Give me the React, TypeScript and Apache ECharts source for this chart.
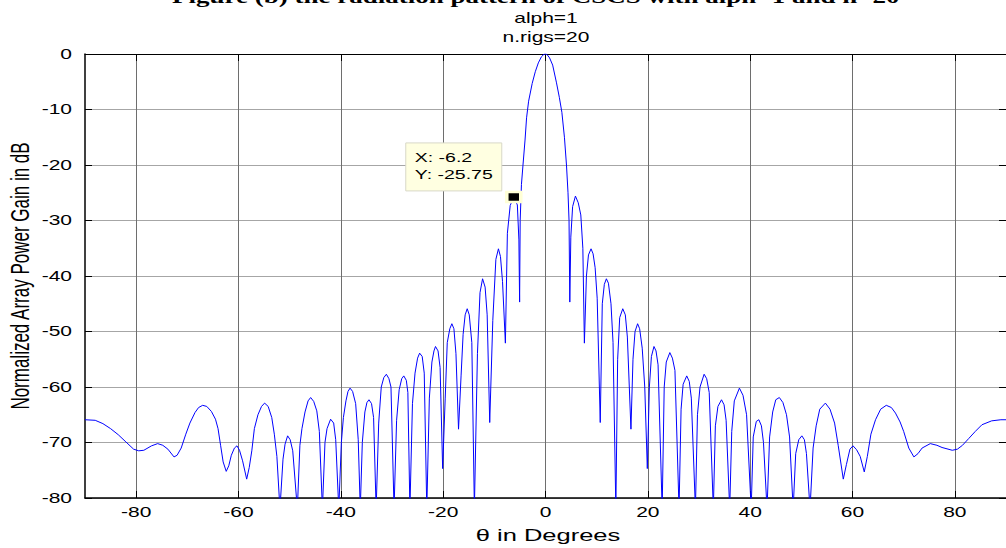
import React, { useEffect, useRef } from "react";
import * as echarts from "echarts";

// ---------- data ----------
const patternPoints: [number, number][] = [
  [-90, -65.9], [-88, -66.0], [-86.5, -66.6], [-85, -67.5], [-83.5, -68.6], [-82, -69.9],
  [-80.5, -71.2], [-79.5, -71.5], [-78.5, -71.4], [-77, -70.6], [-75.8, -70.2], [-74.8, -70.5],
  [-73.8, -71.2], [-72.6, -72.6], [-72.0, -72.3], [-71.2, -71.0], [-70.3, -68.5], [-69.5, -66.5],
  [-68.5, -64.6], [-67.8, -63.7], [-67.0, -63.3], [-66.2, -63.5], [-65.3, -64.4], [-64.5, -65.8],
  [-64.0, -67.5], [-63.5, -70.5], [-63.0, -73.5], [-62.4, -75.2], [-61.9, -74.2], [-61.4, -72.3],
  [-60.8, -71.0], [-60.3, -70.6], [-59.8, -71.4], [-59.2, -73.3], [-58.4, -76.6], [-57.9, -74.5],
  [-57.4, -71.5], [-56.9, -67.5], [-56.2, -65.0], [-55.5, -63.5], [-54.9, -62.9], [-54.2, -63.5],
  [-53.5, -65.5], [-53.0, -68.5], [-52.5, -72.5], [-51.9, -82], [-51.3, -73.0], [-50.9, -70.3],
  [-50.4, -68.8], [-49.9, -69.5], [-49.4, -71.5], [-48.5, -82], [-48.0, -70.5], [-47.6, -67.5],
  [-47.0, -64.5], [-46.4, -62.5], [-45.9, -61.9], [-45.3, -62.6], [-44.7, -64.3], [-44.2, -68.0],
  [-43.6, -82], [-43.1, -70], [-42.7, -67.5], [-42.0, -65.8], [-41.4, -66.5], [-41.0, -69.5],
  [-40.4, -82], [-39.9, -70], [-39.5, -65.5], [-39.0, -62.5], [-38.6, -60.8], [-38.2, -60.2],
  [-37.7, -60.8], [-37.1, -63.0], [-36.6, -69.5], [-36.2, -82], [-35.8, -70], [-35.3, -64.5],
  [-34.9, -62.8], [-34.5, -62.3], [-34.0, -63.0], [-33.6, -65.5], [-33.1, -82], [-32.6, -66.5],
  [-32.1, -60.0], [-31.6, -58.3], [-31.1, -57.7], [-30.6, -58.5], [-30.2, -60.0], [-29.6, -82],
  [-29.1, -66], [-28.6, -60.5], [-28.1, -58.5], [-27.7, -58.0], [-27.2, -58.8], [-26.9, -61],
  [-26.5, -82], [-26.0, -63], [-25.5, -57.5], [-25.0, -54.8], [-24.6, -53.9], [-24.1, -54.5],
  [-23.7, -57.5], [-23.2, -82], [-22.7, -62], [-22.2, -55.5], [-21.8, -53.5], [-21.5, -52.7],
  [-21.0, -53.5], [-20.6, -56.5], [-20.1, -74.7], [-19.6, -62], [-19.2, -52.0], [-18.7, -49.5],
  [-18.3, -48.6], [-17.9, -49.5], [-17.5, -54], [-17.0, -67.6], [-16.5, -58], [-16.1, -50.5],
  [-15.7, -47.0], [-15.3, -45.9], [-14.9, -47.0], [-14.4, -52], [-13.9, -82], [-13.3, -54],
  [-12.8, -43.0], [-12.3, -40.5], [-11.8, -42.0], [-11.4, -47], [-10.9, -66.4], [-10.3, -48],
  [-9.7, -37.0], [-9.2, -35.1], [-8.8, -36.5], [-8.4, -41], [-7.84, -52.1], [-7.45, -32.3],
  [-6.9, -27.3], [-6.2, -25.75], [-5.5, -27.2], [-5.2, -33.5], [-5.06, -44.7], [-4.95, -30],
  [-4.7, -23.5], [-4.4, -20], [-4.0, -15.5], [-3.7, -11.5], [-3.3, -8.5], [-2.6, -5.3],
  [-2.0, -3.2], [-1.4, -1.6], [-0.8, -0.5], [-0.3, -0.05], [0, 0], [0.3, -0.1],
  [0.8, -0.7], [1.4, -2.0], [2.15, -5.2], [2.7, -7.8], [3.2, -10.5], [3.7, -15],
  [4.1, -20], [4.4, -25], [4.6, -30], [4.75, -44.7], [4.95, -33], [5.3, -27.5],
  [5.85, -25.6], [6.4, -26.8], [6.9, -29], [7.3, -35], [7.6, -52.1], [8.0, -40],
  [8.4, -36.2], [8.9, -35.1], [9.3, -36], [9.7, -38.5], [10.1, -44], [10.7, -66.4],
  [11.1, -45], [11.5, -41.5], [11.9, -40.5], [12.3, -41.3], [12.8, -45], [13.2, -52],
  [13.75, -82], [14.1, -55], [14.5, -47.5], [15.1, -45.9], [15.6, -47.0], [16.0, -51],
  [16.7, -67.6], [17.1, -55], [17.5, -50], [18.0, -48.6], [18.4, -49.5], [18.9, -53],
  [19.4, -60], [19.9, -74.7], [20.3, -60], [20.7, -54.5], [21.2, -52.7], [21.6, -53.5],
  [22.0, -56], [22.8, -82], [23.2, -60], [23.6, -55.5], [24.3, -53.8], [24.8, -54.8],
  [25.3, -57], [26.1, -82], [26.5, -64], [26.9, -59.5], [27.6, -58.0], [28.1, -59],
  [28.5, -62], [29.3, -82], [29.7, -65], [30.2, -60], [31.0, -57.7], [31.5, -58.5],
  [32.0, -61], [32.8, -82], [33.2, -67], [33.7, -63.5], [34.4, -62.3], [34.9, -63.2],
  [35.3, -66], [36.0, -82], [36.4, -68], [36.9, -62.5], [37.9, -60.2], [38.6, -61.5],
  [39.3, -65], [40.2, -82], [40.6, -69], [41.2, -66.2], [41.7, -65.9], [42.2, -67],
  [42.6, -70], [43.3, -82], [43.8, -69], [44.4, -64.5], [45.0, -62.3], [45.7, -61.9],
  [46.4, -62.8], [47.1, -65], [47.7, -69], [48.4, -82], [48.9, -72], [49.5, -69.5],
  [50.1, -68.8], [50.6, -69.5], [51.0, -72], [51.7, -82], [52.3, -71], [52.9, -67],
  [53.6, -64], [54.7, -62.9], [55.6, -64], [56.5, -66.5], [57.2, -70.5], [58.2, -76.6],
  [58.8, -74], [59.5, -71.2], [60.1, -70.6], [60.8, -71.3], [61.5, -72.5], [62.3, -75.3],
  [62.9, -72.5], [63.6, -68.5], [64.5, -65.9], [65.5, -64.0], [66.6, -63.3], [67.6, -63.7],
  [68.4, -64.7], [69.3, -66.3], [70.0, -68.0], [71.0, -71.0], [72.0, -72.6], [72.8, -72.0],
  [73.6, -71.0], [75.2, -70.2], [76.5, -70.5], [77.5, -70.9], [79.5, -71.4], [80.5, -71.2],
  [81.5, -70.5], [82.7, -69.3], [84.0, -68.0], [85.3, -66.8], [87.2, -66.1], [89.0, -65.9],
  [90, -65.9],
];

const xTickValues = [-80, -60, -40, -20, 0, 20, 40, 60, 80];
const yTickValues = [0, -10, -20, -30, -40, -50, -60, -70, -80];
const tipPoint = { x: -6.2, y: -25.75 };
const tipLines = ["X: -6.2", "Y: -25.75"];
const figureCaption = "Figure (b) the radiation pattern of CSCS with alph=1 and n=20";
const titleLines = ["alph=1", "n.rigs=20"];
const xAxisName = "\u03b8 in Degrees";
const yAxisName = "Normalized Array Power Gain in dB";

const SANS = '"Liberation Sans", Arial, Helvetica, sans-serif';
const SX = 1.5; // horizontal stretch of the reference's texts

export default function App() {
  const ref = useRef<HTMLDivElement>(null);

  useEffect(() => {
    if (!ref.current) return;
    const chart = echarts.init(ref.current, undefined, { renderer: "svg" });
    const xMin = -90, xMax = 90, yMin = -80, yMax = 0;

    chart.setOption({
      animation: false,
      backgroundColor: "#ffffff",
      grid: { left: 85, right: -4, top: 54, bottom: 50, containLabel: false },
      xAxis: [
        {
          type: "value", min: xMin, max: xMax, position: "bottom",
          axisLine: { show: true, onZero: false, lineStyle: { color: "#000", width: 1.5 } },
          axisTick: { show: true, inside: true, length: 7, customValues: xTickValues, lineStyle: { color: "#000" } },
          axisLabel: { show: false, customValues: xTickValues },
          splitLine: { show: true, lineStyle: { color: "#6e6e6e", width: 1 } },
        },
        {
          type: "value", min: xMin, max: xMax, position: "top",
          axisLine: { show: true, onZero: false, lineStyle: { color: "#000", width: 1 } },
          axisTick: { show: true, inside: true, length: 7, customValues: xTickValues, lineStyle: { color: "#000" } },
          axisLabel: { show: false, customValues: xTickValues },
          splitLine: { show: false },
        },
      ],
      yAxis: [
        {
          type: "value", min: yMin, max: yMax, interval: 10, position: "left",
          axisLine: { show: true, onZero: false, lineStyle: { color: "#000", width: 1.5 } },
          axisTick: { show: true, inside: true, length: 7, lineStyle: { color: "#000" } },
          axisLabel: { show: false },
          splitLine: { show: true, lineStyle: { color: "#a6a6a6", width: 1 } },
        },
        {
          type: "value", min: yMin, max: yMax, interval: 10, position: "right",
          axisLine: { show: true, onZero: false, lineStyle: { color: "#000", width: 1 } },
          axisTick: { show: true, inside: true, length: 7, lineStyle: { color: "#000" } },
          axisLabel: { show: false },
          splitLine: { show: false },
        },
      ],
      series: [
        {
          type: "line",
          data: patternPoints,
          xAxisIndex: 0,
          yAxisIndex: 0,
          symbol: "none",
          showSymbol: false,
          clip: true,
          lineStyle: { color: "#0000ff", width: 1 },
          markPoint: {
            symbol: "rect",
            symbolSize: [14, 10],
            silent: true,
            label: { show: false },
            itemStyle: { color: "#000000", borderColor: "#ffffd6", borderWidth: 3 },
            data: [{ coord: [tipPoint.x, tipPoint.y] }],
          },
        },
      ],
    });

    const px = (x: number, y: number) =>
      chart.convertToPixel({ xAxisIndex: 0, yAxisIndex: 0 }, [x, y]) as number[];

    const graphics: any[] = [];
    const [, yBottom] = px(0, yMin);
    const [xLeft, yTop] = px(xMin, yMax);

    xTickValues.forEach((v) => {
      const [x] = px(v, yMin);
      graphics.push({
        type: "text", x, y: yBottom + 14, scaleX: SX, silent: true,
        style: { text: String(v), font: `14px ${SANS}`, fill: "#000", textAlign: "center", textVerticalAlign: "middle" },
      });
    });
    yTickValues.forEach((v) => {
      const [, y] = px(xMin, v);
      graphics.push({
        type: "text", x: xLeft - 13, y, scaleX: SX, silent: true,
        style: { text: String(v), font: `14px ${SANS}`, fill: "#000", textAlign: "right", textVerticalAlign: "middle" },
      });
    });
    // axis names
    graphics.push({
      type: "text", x: 548, y: yBottom + 37, scaleX: SX, silent: true,
      style: { text: xAxisName, font: `17px ${SANS}`, fill: "#000", textAlign: "center", textVerticalAlign: "middle" },
    });
    graphics.push({
      type: "text", x: 20, y: (yTop + yBottom) / 2, rotation: Math.PI / 2, scaleY: SX, silent: true,
      style: { text: yAxisName, font: `17px ${SANS}`, fill: "#000", textAlign: "center", textVerticalAlign: "middle" },
    });
    // titles
    graphics.push({
      type: "text", x: 546, y: 18, scaleX: SX, silent: true,
      style: { text: titleLines[0], font: `14px ${SANS}`, fill: "#000", textAlign: "center", textVerticalAlign: "middle" },
    });
    graphics.push({
      type: "text", x: 546, y: 37, scaleX: SX, silent: true,
      style: { text: titleLines[1], font: `14px ${SANS}`, fill: "#000", textAlign: "center", textVerticalAlign: "middle" },
    });
    // figure caption of the source document, mostly cut off by the top edge
    graphics.push({
      type: "text", x: 172, y: 6.5, scaleX: SX, silent: true,
      style: { text: figureCaption, font: `bold 18px "Liberation Serif", "Times New Roman", serif`, fill: "#000", textAlign: "left", textVerticalAlign: "bottom" },
    });
    // data tip box
    const [mx, my] = px(tipPoint.x, tipPoint.y);
    const boxX = mx - 108, boxY = my - 54;
    graphics.push({
      type: "rect", silent: true,
      shape: { x: boxX, y: boxY, width: 96, height: 48 },
      style: { fill: "#ffffe1", stroke: "#d8d8c8", lineWidth: 1 },
    });
    tipLines.forEach((t, i) => {
      graphics.push({
        type: "text", x: boxX + 9, y: boxY + 15 + i * 17, scaleX: SX, silent: true,
        style: { text: t, font: `13px ${SANS}`, fill: "#000", textAlign: "left", textVerticalAlign: "middle" },
      });
    });

    chart.setOption({ graphic: graphics });

    return () => chart.dispose();
  }, []);

  return (
    <div
      ref={ref}
      style={{ position: "fixed", left: 0, top: 0, width: 1006, height: 548, background: "#fff" }}
    />
  );
}
